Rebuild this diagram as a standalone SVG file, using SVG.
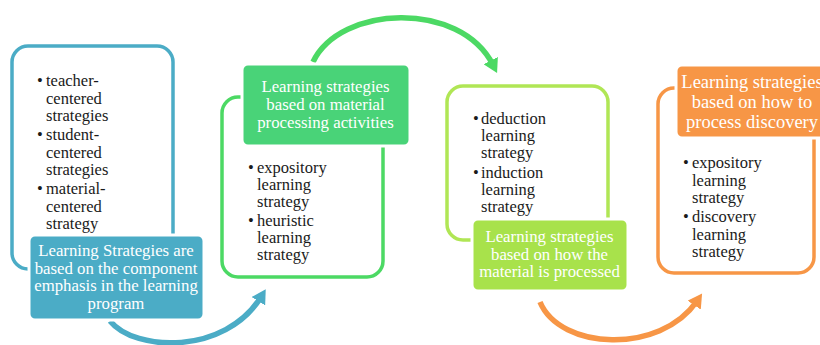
<svg xmlns="http://www.w3.org/2000/svg" width="820" height="345" viewBox="0 0 820 345">
<defs>
<style>
.t{font-family:"Liberation Serif","Times New Roman",serif;font-size:16.5px;fill:#1a1a1a}
.l{font-family:"Liberation Serif","Times New Roman",serif;font-size:16.8px;fill:#ffffff;text-anchor:middle}
.lo{font-size:18.5px}
.box{fill:#ffffff;stroke-width:3.5}
.lab{stroke:#ffffff;stroke-width:3}
.arr{fill:none;stroke-width:5.5}
</style>
<marker id="hb" markerUnits="userSpaceOnUse" markerWidth="16" markerHeight="16" refX="5" refY="8" orient="auto"><path d="M0,0 L14,8 L0,16 z" fill="#4BACC6"/></marker>
<marker id="hg" markerUnits="userSpaceOnUse" markerWidth="16" markerHeight="16" refX="5" refY="8" orient="auto"><path d="M0,0 L14,8 L0,16 z" fill="#4CD964"/></marker>
<marker id="ho" markerUnits="userSpaceOnUse" markerWidth="16" markerHeight="16" refX="5" refY="8" orient="auto"><path d="M0,0 L14,8 L0,16 z" fill="#F79646"/></marker>
</defs>
<rect width="820" height="345" fill="#ffffff"/>
<g id="connectors">
<path class="arr" stroke="#4BACC6" d="M110,321 C135,352 225,355 261,297" marker-end="url(#hb)"/>
<path class="arr" stroke="#4CD964" d="M313,62 C340,5 460,0 493,65" marker-end="url(#hg)"/>
<path class="arr" stroke="#F79646" d="M540,302 C560,350 660,355 697,301" marker-end="url(#ho)"/>
</g>
<g id="node-component">
<rect class="box" x="12" y="46" width="161" height="223" rx="16" stroke="#4BACC6"/>
<text class="t" x="37" y="86">•</text><text class="t" x="46" y="86">teacher-</text>
<text class="t" x="46" y="103.5">centered</text>
<text class="t" x="46" y="121">strategies</text>
<text class="t" x="37" y="140">•</text><text class="t" x="46" y="140">student-</text>
<text class="t" x="46" y="157.5">centered</text>
<text class="t" x="46" y="175">strategies</text>
<text class="t" x="37" y="194">•</text><text class="t" x="46" y="194">material-</text>
<text class="t" x="46" y="211.5">centered</text>
<text class="t" x="46" y="229">strategy</text>
<rect class="lab" x="29" y="235" width="175" height="85" rx="6" fill="#4BACC6"/>
<text class="l" x="116" y="256">Learning Strategies are</text>
<text class="l" x="116" y="273.5">based on the component</text>
<text class="l" x="116" y="291">emphasis in the learning</text>
<text class="l" x="116" y="308.5">program</text>
</g>
<g id="node-activities">
<rect class="box" x="222" y="97" width="161" height="180" rx="16" stroke="#4CD964"/>
<text class="t" x="248" y="173">•</text><text class="t" x="257" y="173">expository</text>
<text class="t" x="257" y="190">learning</text>
<text class="t" x="257" y="207">strategy</text>
<text class="t" x="248" y="226">•</text><text class="t" x="257" y="226">heuristic</text>
<text class="t" x="257" y="243">learning</text>
<text class="t" x="257" y="260">strategy</text>
<rect class="lab" x="242" y="64" width="168" height="82" rx="6" fill="#49D378"/>
<text class="l" x="325.5" y="92">Learning strategies</text>
<text class="l" x="325.5" y="110">based on material</text>
<text class="l" x="325.5" y="128">processing activities</text>
</g>
<g id="node-processed">
<rect class="box" x="447" y="86" width="161" height="154" rx="16" stroke="#B0E655"/>
<text class="t" x="473" y="124">•</text><text class="t" x="481" y="124">deduction</text>
<text class="t" x="481" y="141">learning</text>
<text class="t" x="481" y="158">strategy</text>
<text class="t" x="473" y="178">•</text><text class="t" x="481" y="178">induction</text>
<text class="t" x="481" y="195">learning</text>
<text class="t" x="481" y="212">strategy</text>
<rect class="lab" x="472" y="219" width="156" height="72" rx="6" fill="#A8E24B"/>
<text class="l" x="549.5" y="242">Learning strategies</text>
<text class="l" x="549.5" y="259.5">based on how the</text>
<text class="l" x="549.5" y="277">material is processed</text>
</g>
<g id="node-discovery">
<rect class="box" x="658" y="88" width="156" height="185" rx="16" stroke="#F79646"/>
<text class="t" x="683" y="168">•</text><text class="t" x="692" y="168">expository</text>
<text class="t" x="692" y="185.5">learning</text>
<text class="t" x="692" y="203">strategy</text>
<text class="t" x="683" y="222">•</text><text class="t" x="692" y="222">discovery</text>
<text class="t" x="692" y="239.5">learning</text>
<text class="t" x="692" y="257">strategy</text>
<rect class="lab" x="676" y="65" width="160" height="73" rx="6" fill="#F79646"/>
<text class="l lo" x="752" y="88">Learning strategies</text>
<text class="l lo" x="752" y="108">based on how to</text>
<text class="l lo" x="752" y="128">process discovery</text>
</g>
</svg>
